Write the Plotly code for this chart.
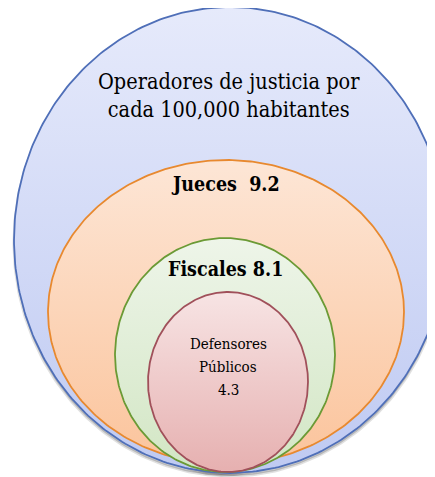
import numpy as np
import plotly.graph_objects as go

# Data
labels = ["Jueces", "Fiscales", "Defensores Públicos"]
values = [9.2, 8.1, 4.3]
title_text = "Operadores de justicia por<br>cada 100,000 habitantes"

W, H = 435, 477
OFF = 8  # page body margin in browser

# ellipse geometry (screen pixels): cx, cy, rx, ry
ellipses = [
    (230, 240, 216, 233),   # outer
    (226, 312, 178, 152),   # Jueces
    (225, 355, 110, 117),   # Fiscales
    (228, 382, 80, 90),     # Defensores
]
fills = [
    ("#bfcaf2", "#e6eafb"),
    ("#fbc49c", "#fde6d6"),
    ("#d2e6c4", "#eef5e9"),
    ("#e6b0b0", "#f7e4e4"),
]
lines = ["#4f6fb8", "#e8892f", "#6b9a35", "#a0505a"]

fig = go.Figure()
t = np.linspace(0, 2 * np.pi, 361)

# soft shadow below the circles
for (cx, cy, rx, ry) in ellipses[:3]:
    fig.add_trace(go.Scatter(
        x=cx + rx * np.cos(t), y=cy + 3 + ry * np.sin(t), mode="lines",
        fill="toself", fillcolor="rgba(0,0,0,0.18)",
        line=dict(color="rgba(0,0,0,0.12)", width=3),
        hoverinfo="skip", showlegend=False,
    ))

for (cx, cy, rx, ry), (c0, c1), lc in zip(ellipses, fills, lines):
    x = cx + rx * np.cos(t)
    y = cy + ry * np.sin(t)
    fig.add_trace(go.Scatter(
        x=x, y=y, mode="lines", fill="toself",
        line=dict(color=lc, width=1.8),
        fillcolor=c1,
        fillgradient=dict(type="vertical", colorscale=[[0, c0], [1, c1]]),
        hoverinfo="skip", showlegend=False,
    ))

font = "DejaVu Serif Condensed"
fig.add_annotation(x=229, y=95, text=title_text, showarrow=False,
                   font=dict(family=font, size=21.5, color="black"))
fig.add_annotation(x=225, y=184, text=f"<b>{labels[0]}  {values[0]}</b>", showarrow=False,
                   font=dict(family=font, size=19.5, color="black"))
fig.add_annotation(x=225, y=269, text=f"<b>{labels[1]} {values[1]}</b>", showarrow=False,
                   font=dict(family=font, size=19.5, color="black"))
def_lines = ["Defensores", "Públicos", str(values[2])]
for txt, yy in zip(def_lines, [344, 367, 390]):
    fig.add_annotation(x=228, y=yy, text=txt, showarrow=False,
                       font=dict(family=font, size=15, color="black"))

fig.update_xaxes(range=[OFF, W + OFF], visible=False, fixedrange=True)
fig.update_yaxes(range=[H + OFF, OFF], visible=False, fixedrange=True)
fig.update_layout(width=W, height=H, margin=dict(l=0, r=0, t=0, b=0),
                  paper_bgcolor="white", plot_bgcolor="white")
fig.write_html("out.html")
